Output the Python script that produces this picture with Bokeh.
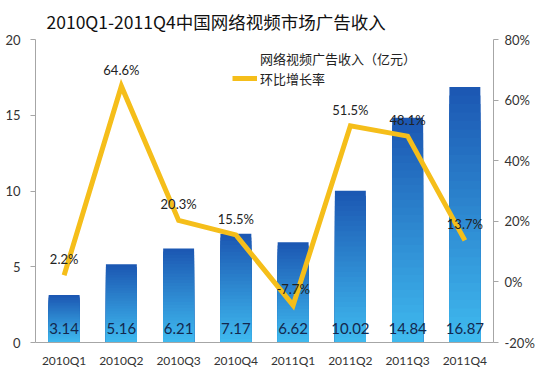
from bokeh.plotting import figure
from bokeh.models import (ColumnDataSource, FactorRange, Range1d, LinearAxis, FixedTicker,
                          PrintfTickFormatter, Legend, LegendItem)
from bokeh.core.properties import value
from bokeh.embed import file_html
from bokeh.resources import INLINE

# ---- data ----
quarters = ["2010Q1", "2010Q2", "2010Q3", "2010Q4", "2011Q1", "2011Q2", "2011Q3", "2011Q4"]
revenue = [3.14, 5.16, 6.21, 7.17, 6.62, 10.02, 14.84, 16.87]
growth = [2.2, 64.6, 20.3, 15.5, -7.7, 51.5, 48.1, 13.7]
revenue_labels = ["3.14", "5.16", "6.21", "7.17", "6.62", "10.02", "14.84", "16.87"]
growth_labels = ["2.2%", "64.6%", "20.3%", "15.5%", "-7.7%", "51.5%", "48.1%", "13.7%"]
left_ticks = [0, 5, 10, 15, 20]
right_ticks = [-20, 0, 20, 40, 60, 80]
title_text = "2010Q1-2011Q4中国网络视频市场广告收入"
bar_name = "网络视频广告收入（亿元）"
line_name = "环比增长率"

CJK = "Noto Sans CJK SC"
NUM = "Lato"
TOP = (0x1C, 0x58, 0xB3)
BOT = (0x40, 0xBC, 0xF0)
LINE_C = "#F5BE1A"

W, H = 537, 370
BL, BR, BT, BB = 35, 42, 39, 26
p = figure(x_range=FactorRange(*quarters, range_padding=0), y_range=Range1d(0, 20),
           width=W, height=H, output_backend="svg", toolbar_location=None,
           min_border_left=BL, min_border_right=BR, min_border_top=BT, min_border_bottom=BB)
p.extra_y_ranges = {"pct": Range1d(-20, 80)}
p.outline_line_color = None
p.grid.visible = False
p.background_fill_color = "white"
p.border_fill_color = "white"

p.title.text = title_text
p.title.text_font = CJK
p.title.text_font_size = "17.5px"
p.title.text_font_style = "normal"
p.title.text_color = "#111111"
p.title.align = "left"
p.title.offset = 11
p.title.standoff = 11

# gradient bars: overlapping layers from full height down
N = 30
xs, tops, cols = [], [], []
for i in range(N):
    f = (N - i) / N
    c = tuple(int(round(BOT[k] + (TOP[k] - BOT[k]) * f)) for k in range(3))
    col = "#%02x%02x%02x" % c
    for q, v in zip(quarters, revenue):
        xs.append(q)
        tops.append(v * f)
        cols.append(col)
bsrc = ColumnDataSource(dict(x=xs, top=tops, color=cols))
p.vbar(x="x", top="top", bottom=0, width=0.54, source=bsrc, fill_color="color", line_color=None)

# line
lsrc = ColumnDataSource(dict(x=quarters, y=growth, lab=growth_labels))
line_r = p.line(x="x", y="y", source=lsrc, y_range_name="pct", line_color=LINE_C, line_width=5,
                line_join="miter")

# labels
vsrc = ColumnDataSource(dict(x=quarters, y=[0] * len(quarters), lab=revenue_labels))
p.text(x="x", y="y", text="lab", source=vsrc, text_align="center", text_baseline="middle",
       y_offset=-14, text_font=value(NUM), text_font_size="15px", text_color="#13284E")
p.text(x="x", y="y", text="lab", source=lsrc, y_range_name="pct", text_align="center",
       text_baseline="middle", y_offset=-16, text_font=value(NUM), text_font_size="13px",
       text_color="#222222")

# dummy legend renderer for bars
dummy = p.line(x=[], y=[], line_color="#2A7FD4", line_width=6)

# axes
ax_l = p.yaxis[0]
ax_l.ticker = FixedTicker(ticks=left_ticks)
ax_r = LinearAxis(y_range_name="pct", ticker=FixedTicker(ticks=right_ticks),
                  formatter=PrintfTickFormatter(format="%d%%"))
p.add_layout(ax_r, "right")
for ax in (ax_l, ax_r):
    ax.axis_line_color = "#A6A6A6"
    ax.major_tick_line_color = "#A6A6A6"
    ax.major_tick_out = 5
    ax.major_tick_in = 0
    ax.minor_tick_line_color = None
    ax.major_label_text_font = NUM
    ax.major_label_text_font_size = "13px"
    ax.major_label_text_color = "#333333"
ax_l.major_label_standoff = 10
ax_r.major_label_standoff = 6
xa = p.xaxis[0]
xa.axis_line_color = "#A6A6A6"
xa.major_tick_line_color = None
xa.major_tick_out = 0
xa.major_tick_in = 0
xa.minor_tick_line_color = None
xa.major_label_text_font = NUM
xa.major_label_text_font_size = "12px"
xa.major_label_text_color = "#333333"
xa.major_label_standoff = 10

legend = Legend(items=[LegendItem(label=bar_name, renderers=[dummy]),
                       LegendItem(label=line_name, renderers=[line_r])],
                location=(197, 254), padding=0, spacing=0, margin=0,
                glyph_width=25, glyph_height=20, label_height=20, label_standoff=3,
                label_text_font=CJK, label_text_font_size="13px", label_text_color="#222222",
                border_line_color=None, background_fill_alpha=0)
p.add_layout(legend, "center")

open("out.html", "w").write(file_html(p, INLINE))
